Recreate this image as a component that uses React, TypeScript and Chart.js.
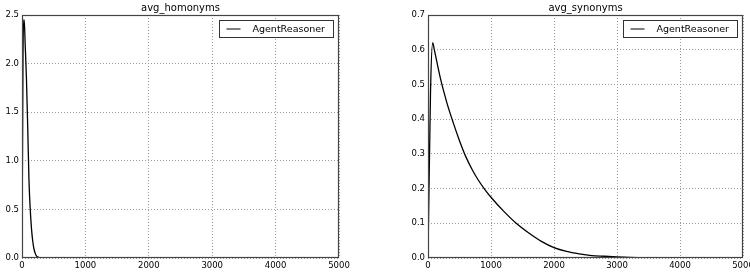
import React, { useEffect, useRef } from "react";
import { Chart, registerables } from "chart.js";
Chart.register(...registerables);

// ---- data ----
const homonymsX = [0, 15, 25, 35, 50, 70, 90, 110, 130, 150, 170, 190, 210, 230, 260, 300, 350, 5000];
const homonymsY = [0, 2.0, 2.45, 2.45, 2.2, 1.85, 1.35, 0.8, 0.5, 0.3, 0.17, 0.09, 0.045, 0.02, 0.007, 0.002, 0, 0];

const synonymsX = [0, 40, 75, 100, 200, 300, 400, 500, 600, 700, 800, 900, 1000, 1200, 1400, 1600, 1800, 2000, 2200, 2400, 2600, 2800, 3000, 3200, 3500, 4000, 5000];
const synonymsY = [0, 0.48, 0.62, 0.6, 0.515, 0.447, 0.39, 0.338, 0.292, 0.255, 0.224, 0.198, 0.175, 0.135, 0.1, 0.072, 0.048, 0.03, 0.019, 0.012, 0.007, 0.005, 0.003, 0.0015, 0.0005, 0, 0];

const xTicks = [0, 1000, 2000, 3000, 4000, 5000];
const homonymsYTicks = [0, 0.5, 1.0, 1.5, 2.0, 2.5];
const synonymsYTicks = [0, 0.1, 0.2, 0.3, 0.4, 0.5, 0.6, 0.7];

const seriesLabel = "AgentReasoner";
const FONT = "DejaVu Sans";

const frameLegendPlugin = {
  id: "frameLegend",
  afterDraw(chart: any) {
    const { ctx, chartArea: a } = chart;
    ctx.save();
    // legend box
    const w = 114, h = 17;
    const bx = Math.round(a.right - 6 - w) + 0.5;
    const by = Math.round(a.top + 5) + 0.5;
    ctx.fillStyle = "#fff";
    ctx.fillRect(bx, by, w, h);
    ctx.strokeStyle = "#333";
    ctx.lineWidth = 1;
    ctx.strokeRect(bx, by, w, h);
    ctx.beginPath();
    ctx.strokeStyle = "#000";
    ctx.lineWidth = 1;
    ctx.moveTo(bx + 7, Math.round(by + h / 2));
    ctx.lineTo(bx + 21, Math.round(by + h / 2));
    ctx.stroke();
    ctx.fillStyle = "#000";
    ctx.font = `9.5px "${FONT}"`;
    ctx.textBaseline = "middle";
    ctx.textAlign = "left";
    ctx.fillText(chart.data.datasets[0].label, bx + 33, by + h / 2 + 0.5);
    // frame
    ctx.strokeStyle = "#444";
    ctx.lineWidth = 1.2;
    ctx.strokeRect(
      Math.round(a.left) + 0.5,
      Math.round(a.top) + 0.5,
      Math.round(a.right - a.left) - 1,
      Math.round(a.bottom - a.top) - 1
    );
    ctx.restore();
  },
};

function makeConfig(
  title: string,
  xs: number[],
  ys: number[],
  yTicks: number[],
  yWidth: number,
  rightPad: number
) {
  const yMax = yTicks[yTicks.length - 1];
  return {
    type: "line" as const,
    data: {
      datasets: [
        {
          label: seriesLabel,
          data: xs.map((x, i) => ({ x, y: ys[i] })),
          borderColor: "#000",
          borderWidth: 1.3,
          pointRadius: 0,
          cubicInterpolationMode: "monotone",
          fill: false,
        },
      ],
    },
    options: {
      animation: false,
      responsive: false,
      layout: { padding: { left: 0, right: rightPad, top: 0, bottom: 0 } },
      plugins: {
        legend: { display: false },
        tooltip: { enabled: false },
        title: {
          display: true,
          text: title,
          fullSize: false,
          color: "#000",
          font: { family: FONT, size: 10, lineHeight: 1.1, weight: "normal" },
          padding: { top: 3, bottom: 1 },
        },
      },
      scales: {
        x: {
          type: "linear",
          min: xTicks[0],
          max: xTicks[xTicks.length - 1],
          afterBuildTicks: (s: any) => {
            s.ticks = xTicks.map((v) => ({ value: v }));
          },
          afterFit: (s: any) => {
            s.height = 16;
            s.paddingLeft = 0;
            s.paddingRight = 0;
          },
          ticks: {
            color: "#000",
            font: { family: FONT, size: 8.5 },
            padding: 3,
            maxRotation: 0,
            autoSkip: false,
            callback: (v: any) => String(v),
          },
          grid: { color: "#9a9a9a", lineWidth: 1, drawTicks: false },
          border: { display: false, dash: [1, 2] },
        },
        y: {
          type: "linear",
          min: yTicks[0],
          max: yMax,
          afterBuildTicks: (s: any) => {
            s.ticks = yTicks.map((v) => ({ value: v }));
          },
          afterFit: (s: any) => {
            s.width = yWidth;
            s.paddingTop = 0;
            s.paddingBottom = 0;
          },
          ticks: {
            color: "#000",
            font: { family: FONT, size: 8.5 },
            padding: 3,
            autoSkip: false,
            callback: (v: any) => Number(v).toFixed(1),
          },
          grid: { color: "#9a9a9a", lineWidth: 1, drawTicks: false },
          border: { display: false, dash: [1, 2] },
        },
      },
    },
    plugins: [frameLegendPlugin],
  };
}

function Panel(props: {
  title: string;
  xs: number[];
  ys: number[];
  yTicks: number[];
  yWidth: number;
  rightPad: number;
}) {
  const ref = useRef<HTMLCanvasElement | null>(null);
  useEffect(() => {
    if (!ref.current) return;
    const chart = new Chart(
      ref.current,
      makeConfig(props.title, props.xs, props.ys, props.yTicks, props.yWidth, props.rightPad) as any
    );
    return () => chart.destroy();
  }, []);
  return (
    <canvas
      ref={ref}
      width={375}
      height={274}
      style={{ display: "block", width: 375, height: 274 }}
    />
  );
}

export default function App() {
  useEffect(() => {
    document.body.style.margin = "0";
    document.body.style.background = "#fff";
  }, []);
  return (
    <div style={{ display: "flex", width: 750, height: 274, background: "#fff" }}>
      <Panel
        title="avg_homonyms"
        xs={homonymsX}
        ys={homonymsY}
        yTicks={homonymsYTicks}
        yWidth={22}
        rightPad={36}
      />
      <Panel
        title="avg_synonyms"
        xs={synonymsX}
        ys={synonymsY}
        yTicks={synonymsYTicks}
        yWidth={53}
        rightPad={7}
      />
    </div>
  );
}
